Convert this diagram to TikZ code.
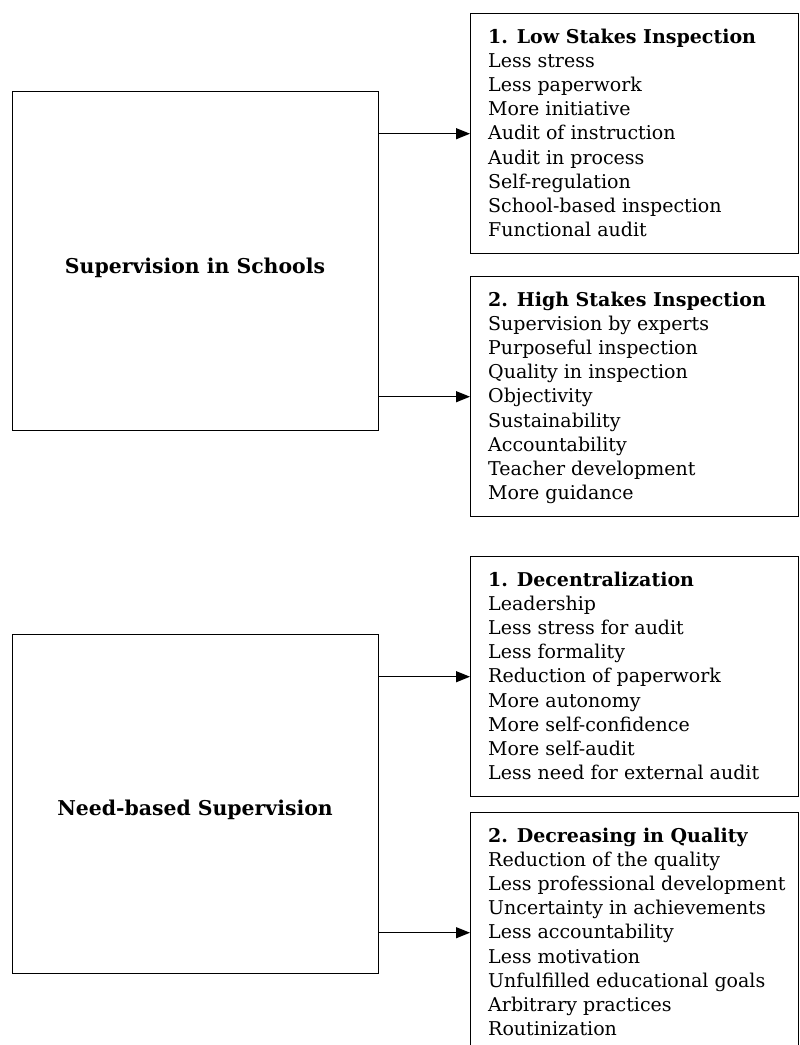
\documentclass[tikz,border=0pt]{standalone}
\usepackage{fontspec}
\setmainfont{DejaVu Serif}
\usetikzlibrary{arrows.meta}

\tikzset{
  mainbox/.style={draw, line width=1.4pt, minimum width=366pt, minimum height=339pt, inner sep=0pt, anchor=north west},
  mainlabel/.style={anchor=base, inner sep=0pt, font=\bfseries\fontsize{20.4}{24}\selectfont},
  listbox/.style={draw, line width=1.4pt, minimum width=328pt, minimum height=240pt, inner sep=0pt, anchor=north west},
  listtext/.style={anchor=north west, align=left, inner sep=0pt, font=\fontsize{19}{24.2}\selectfont},
  link/.style={line width=1.2pt, -{Triangle[length=14pt,width=11pt]}}
}

\begin{document}
\begin{tikzpicture}[x=1pt,y=-1pt]
    \useasboundingbox (0,0) rectangle (800,1045);
    \clip (0,0) rectangle (800,1045);

    % Supervision in Schools
    \node[mainbox] (sup) at (12,91) {};
    \node[mainlabel] (suplabel) at (195,273) {Supervision in Schools};

    \node[listbox] (low) at (470,13) {};
    \node[listtext] (lowtext) at ([xshift=18pt,yshift=-15.5pt]low.north west)
        {\textbf{1. Low Stakes Inspection}\\Less stress\\Less paperwork\\More initiative\\Audit of instruction\\Audit in process\\Self-regulation\\School-based inspection\\Functional audit};

    \node[listbox] (high) at (470,276) {};
    \node[listtext] (hightext) at ([xshift=18pt,yshift=-15.5pt]high.north west)
        {\textbf{2. High Stakes Inspection}\\Supervision by experts\\Purposeful inspection\\Quality in inspection\\Objectivity\\Sustainability\\Accountability\\Teacher development\\More guidance};

    \draw[link] (sup.east |- low.west) -- (low.west);
    \draw[link] (sup.east |- high.west) -- (high.west);

    % Need-based Supervision
    \node[mainbox] (need) at (12,634) {};
    \node[mainlabel] (needlabel) at (195,815) {Need-based Supervision};

    \node[listbox] (dec) at (470,556) {};
    \node[listtext] (dectext) at ([xshift=18pt,yshift=-15.5pt]dec.north west)
        {\textbf{1. Decentralization}\\Leadership\\Less stress for audit\\Less formality\\Reduction of paperwork\\More autonomy\\More self-confidence\\More self-audit\\Less need for external audit};

    \node[listbox] (qual) at (470,812) {};
    \node[listtext] (qualtext) at ([xshift=18pt,yshift=-15.5pt]qual.north west)
        {\textbf{2. Decreasing in Quality}\\Reduction of the quality\\Less professional development\\Uncertainty in achievements\\Less accountability\\Less motivation\\Unfulfilled educational goals\\Arbitrary practices\\Routinization};

    \draw[link] (need.east |- dec.west) -- (dec.west);
    \draw[link] (need.east |- qual.west) -- (qual.west);

\end{tikzpicture}
\end{document}
